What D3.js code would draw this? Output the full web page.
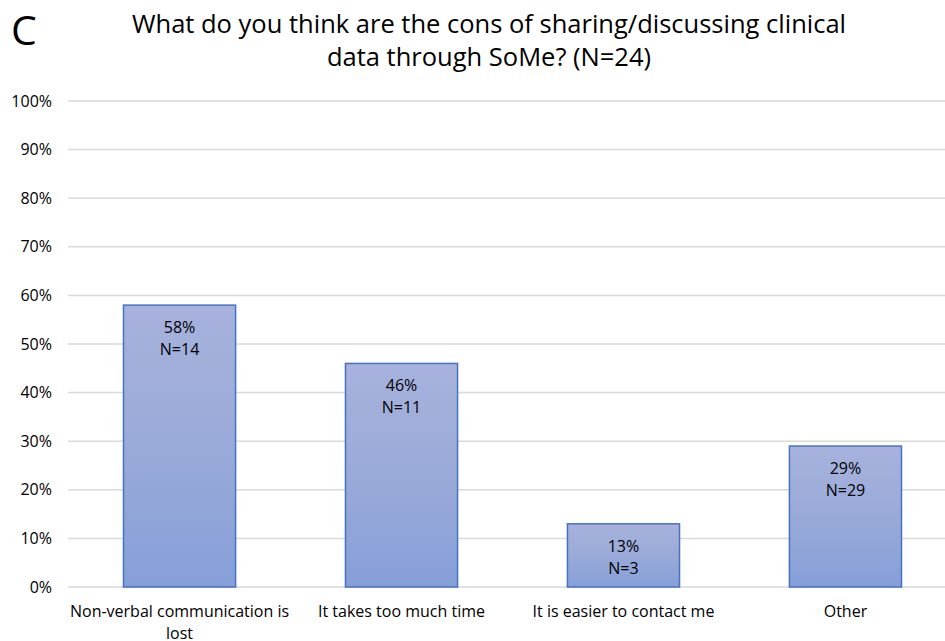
<!DOCTYPE html>
<html>
<head>
<meta charset="utf-8">
<script src="https://cdn.jsdelivr.net/npm/d3@7"></script>
<style>
  body { margin: 0; background: #fff; }
  text { font-family: 'Open Sans', 'Noto Sans', sans-serif; fill: #000; }
</style>
</head>
<body>
<div id="chart"></div>
<script>
// data
let categories = ['Non-verbal communication is lost', 'It takes too much time', 'It is easier to contact me', 'Other']
let percents = [58, 46, 13, 29]
let counts = [14, 11, 3, 29]
let yTicks = [0, 10, 20, 30, 40, 50, 60, 70, 80, 90, 100]
let titleLines = ['What do you think are the cons of sharing/discussing clinical', 'data through SoMe? (N=24)']

let width = 945, height = 641
let margin = { top: 101, bottom: 54, left: 68 }

let svg = d3.select('#chart')
.append('svg')
.attr('width', width)
.attr('height', height)

let defs = svg.append('defs')
let grad = defs.append('linearGradient')
.attr('id', 'barGrad')
.attr('x1', 0).attr('y1', 0).attr('x2', 0).attr('y2', 1)
grad.append('stop').attr('offset', '0%').attr('stop-color', '#a7b2dd')
grad.append('stop').attr('offset', '50%').attr('stop-color', '#9aaad8')
grad.append('stop').attr('offset', '100%').attr('stop-color', '#869fd9')

// the plot area runs a little past the right edge of the picture
let x = d3.scaleBand()
.domain(categories)
.range([margin.left, 957])
.paddingInner(0.495)
.paddingOuter(0.25)

let y = d3.scaleLinear()
.domain([0, 100])
.range([height - margin.bottom, margin.top])

// gridlines
svg.append('g')
.selectAll('line')
.data(yTicks)
.join('line')
.attr('x1', margin.left)
.attr('x2', width)
.attr('y1', d => y(d))
.attr('y2', d => y(d))
.style('stroke', '#d9d9d9')
.style('stroke-width', 1.5)

// y tick labels
svg.append('g')
.selectAll('text')
.data(yTicks)
.join('text')
.attr('x', 52)
.attr('y', d => y(d))
.attr('dy', '0.35em')
.attr('text-anchor', 'end')
.style('font-size', '16px')
.text(d => d + '%')

// bars
svg.append('g')
.selectAll('rect')
.data(categories)
.join('rect')
.attr('x', d => x(d))
.attr('width', x.bandwidth())
.attr('y', (d, i) => y(percents[i]))
.attr('height', (d, i) => y(0) - y(percents[i]))
.attr('fill', 'url(#barGrad)')
.style('stroke', '#4472c4')
.style('stroke-width', 1.5)

// value labels
let labels = svg.append('g')
.selectAll('text')
.data(categories)
.join('text')
.attr('text-anchor', 'middle')
.style('font-size', '16px')
.attr('x', d => x(d) + x.bandwidth() / 2)
.attr('y', (d, i) => y(percents[i]) + 28)

labels.append('tspan')
.text((d, i) => percents[i] + '%')
labels.append('tspan')
.attr('x', d => x(d) + x.bandwidth() / 2)
.attr('dy', 22)
.text((d, i) => 'N=' + counts[i])

// category labels
svg.append('g')
.selectAll('text')
.data(categories)
.join('text')
.attr('text-anchor', 'middle')
.style('font-size', '16px')
.attr('x', d => x(d) + x.bandwidth() / 2)
.attr('y', 617)
.each(function(d) {
    let t = d3.select(this)
    if (d === 'Non-verbal communication is lost') {
        t.append('tspan').attr('x', x(d) + x.bandwidth() / 2).text('Non-verbal communication is')
        t.append('tspan').attr('x', x(d) + x.bandwidth() / 2).attr('dy', 21.5).text('lost')
    } else {
        t.text(d)
    }
})

// title
svg.append('text')
.attr('x', 489)
.attr('y', 33)
.attr('text-anchor', 'middle')
.style('font-size', '25.5px')
.selectAll('tspan')
.data(titleLines)
.join('tspan')
.attr('x', 489)
.attr('dy', (d, i) => i === 0 ? 0 : 33)
.text(d => d)

// panel letter
svg.append('text')
.attr('x', 11)
.attr('y', 45)
.style('font-size', '41px')
.text('C')
</script>
</body>
</html>
